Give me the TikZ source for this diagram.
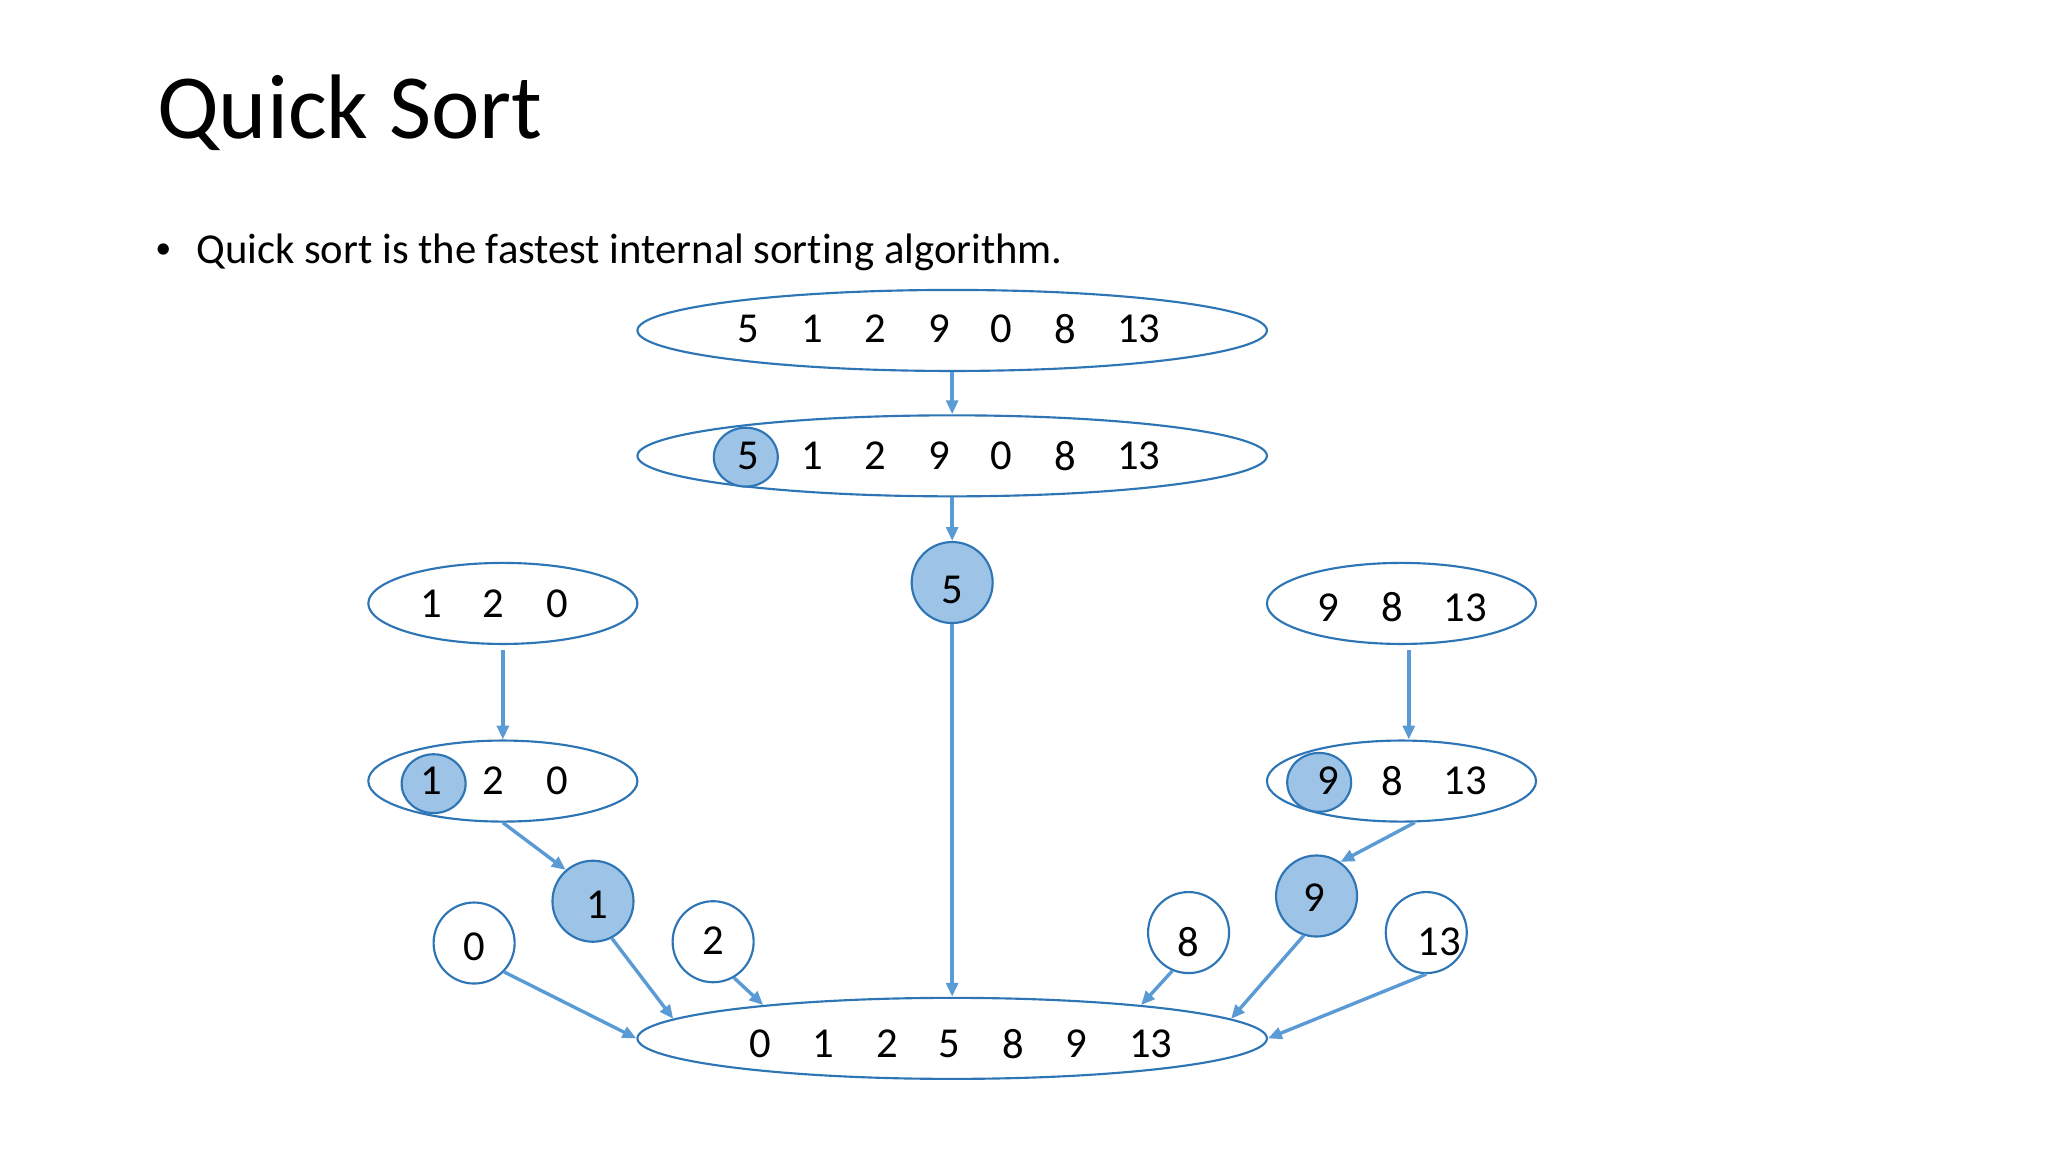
\documentclass[tikz,border=0pt]{standalone}
\usepackage{fontspec}
\setmainfont{Carlito}[Ligatures=NoCommon]
\usetikzlibrary{shapes.geometric,arrows.meta}
\definecolor{outl}{HTML}{2E75B6}
\definecolor{arrc}{HTML}{5B9BD5}
\definecolor{hfill}{HTML}{9DC3E6}
\tikzset{
  bigell/.style={ellipse, draw=outl, line width=1pt, minimum width=295.2pt, minimum height=38pt, inner sep=0pt},
  smallell/.style={ellipse, draw=outl, line width=1pt, minimum width=126.2pt, minimum height=38pt, inner sep=0pt},
  pcirc/.style={ellipse, draw=outl, fill=hfill, line width=1pt, minimum width=38pt, minimum height=38pt, inner sep=0pt},
  wcirc/.style={ellipse, draw=outl, fill=white, line width=1pt, minimum width=38pt, minimum height=38pt, inner sep=0pt},
  hl/.style={ellipse, draw=outl, fill=hfill, line width=1pt, minimum width=30pt, minimum height=27.6pt, inner sep=0pt},
  num/.style={font=\fontsize{20}{24}\selectfont, inner sep=0pt, text=black},
  arr/.style={draw=arrc, line width=1.6pt, -{Triangle[length=6.5pt,width=5.5pt]}},
}
\begin{document}
\begin{tikzpicture}[x=0.6125pt, y=-0.6125pt]
\path[fill=white, use as bounding box] (0,0) rectangle (1568,882);

% title and bullet
\node[anchor=base west, inner sep=0pt, font=\fontsize{43}{50}\selectfont] (title) at (120,106) {Quick Sort};
\node[anchor=center, inner sep=0pt, font=\fontsize{15}{18}\selectfont] (bul) at (125,192) {•};
\node[anchor=base west, inner sep=0pt, font=\fontsize{20}{24}\selectfont] (btxt) at (150,202) {Quick sort is the fastest internal sorting algorithm.};

% ellipses
\node[bigell] (t1) at (729,253) {};
\node[bigell] (t2) at (729,349) {};
\node[bigell] (b) at (729,795) {};
\node[smallell] (l1) at (385,462) {};
\node[smallell] (l2) at (385,598) {};
\node[smallell] (r1) at (1073,462) {};
\node[smallell] (r2) at (1073,598) {};

% highlights inside ellipses
\node[hl] (h5) at (571,350) {};
\node[hl] (h1) at (332,600) {};
\node[hl] (h9) at (1010,599) {};

% numbers in ellipses
\foreach \xx/\vv [count=\i] in {573/5,622/1,670/2,719/9,767/0,816/8,872/13}
  \node[num] (t1n\i) at (\xx,252) {\vv};
\foreach \xx/\vv [count=\i] in {573/5,622/1,670/2,719/9,767/0,816/8,872/13}
  \node[num] (t2n\i) at (\xx,349) {\vv};
\foreach \xx/\vv [count=\i] in {582/0,630/1,679/2,727/5,776/8,824/9,881/13}
  \node[num] (bn\i) at (\xx,799) {\vv};
\foreach \xx/\vv [count=\i] in {330/1,378/2,427/0}
  \node[num] (l1n\i) at (\xx,462) {\vv};
\foreach \xx/\vv [count=\i] in {330/1,378/2,427/0}
  \node[num] (l2n\i) at (\xx,598) {\vv};
\foreach \xx/\vv [count=\i] in {1017/9,1066/8,1122/13}
  \node[num] (r1n\i) at (\xx,465) {\vv};
\foreach \xx/\vv [count=\i] in {1017/9,1066/8,1122/13}
  \node[num] (r2n\i) at (\xx,598) {\vv};

% circles
\node[pcirc] (p5) at (729,446) {};
\node[pcirc] (p1) at (454,690) {};
\node[pcirc] (p9) at (1008,686) {};
\node[wcirc] (c0) at (363,722) {};
\node[wcirc] (c2) at (546,721) {};
\node[wcirc] (c8) at (910,714) {};
\node[wcirc] (c13) at (1092,714) {};
\node[num] (p5n) at (729,452) {5};
\node[num] (p1n) at (457,693) {1};
\node[num] (p9n) at (1006,687) {9};
\node[num] (c0n) at (363,725) {0};
\node[num] (c2n) at (546,720) {2};
\node[num] (c8n) at (910,721) {8};
\node[num] (c13n) at (1102,721) {13};

% connectors
\draw[arr] (t1.south) -- (t2.north);
\draw[arr] (t2.south) -- (p5.north);
\draw[arr] (p5.south) -- (b.north);
\draw[arr, shorten <=2.5pt] (l1.south) -- (l2.north);
\draw[arr, shorten <=2.5pt] (r1.-80) -- (r2.80);
\draw[arr] (l2.south) -- (p1.131);
\draw[arr] (r2.-72) -- (p9.55);
\draw[arr] (c0.-44) -- (b.west);
\draw[arr] (p1.-63) -- (b.176);
\draw[arr] (c2.-60) -- (b.170);
\draw[arr] (c8.-113) -- (b.10);
\draw[arr] (p9.-108) -- (b.4.3);
\draw[arr] (c13.-90) -- (b.east);
\end{tikzpicture}
\end{document}
